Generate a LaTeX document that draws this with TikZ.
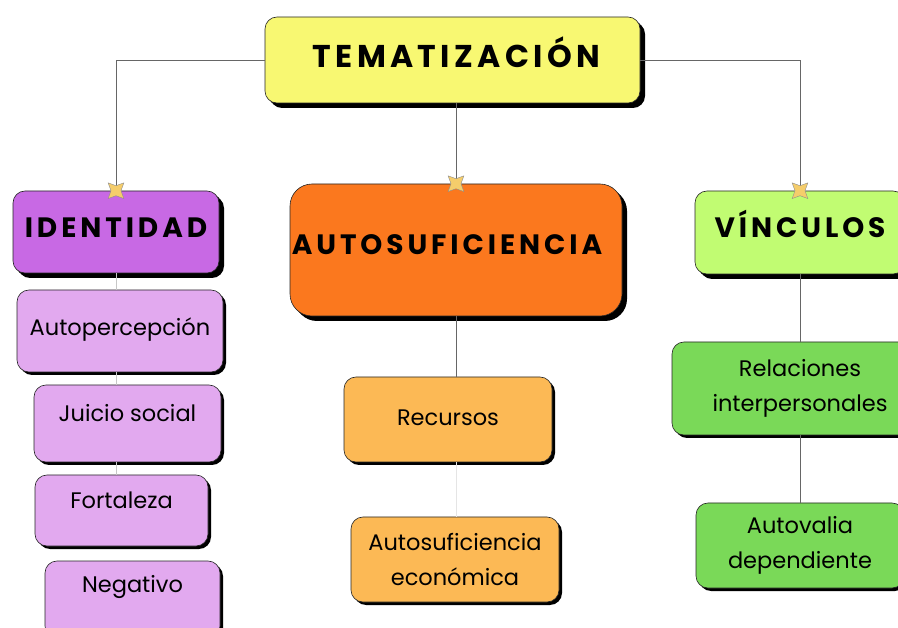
\documentclass[tikz,border=0pt]{standalone}
\usepackage{fontspec}
\setmainfont{Poppins}
\newfontfamily\headfont[LetterSpace=14]{Poppins}
\usepackage{tikz}
\usetikzlibrary{shapes.geometric, shadows}

\definecolor{cTema}{HTML}{F8F872}
\definecolor{cIdent}{HTML}{C869E4}
\definecolor{cIdentSub}{HTML}{E2A9EF}
\definecolor{cAuto}{HTML}{FB781E}
\definecolor{cAutoSub}{HTML}{FCB955}
\definecolor{cVinc}{HTML}{C1FC72}
\definecolor{cVincSub}{HTML}{7AD958}
\definecolor{cJoint}{HTML}{F5CD6B}

\begin{document}
\begin{tikzpicture}[x=1pt, y=-1pt]
		\tikzset{
			box/.style={rectangle, rounded corners=12pt, draw=black!85, line width=0.6pt,
			align=center, inner sep=0pt, text height=16pt, text depth=0pt,
			drop shadow={shadow xshift=3pt, shadow yshift=-3pt, opacity=1, fill=black},
			font=\fontsize{22.5}{35}\selectfont},
			twoline/.style={box, text height=, text depth=},
			head/.style={box, text height=20pt,
			drop shadow={shadow xshift=5pt, shadow yshift=-5pt, opacity=1, fill=black},
			font=\headfont\bfseries\fontsize{28}{30}\selectfont},
			lifted/.style={text depth=#1},
			joint/.style={star, star points=4, star point ratio=0.45, fill=cJoint,
			draw=black!45, line width=0.4pt, inner sep=0pt, minimum size=10pt},
			link/.style={draw=black!60, line width=0.7pt},
			sublink/.style={draw=black!22, line width=0.7pt},
		}
		\useasboundingbox (0,0) rectangle (898,628);

		\node[head, fill=cTema, minimum width=375pt, minimum height=86pt, lifted=5pt,
		font=\headfont\bfseries\fontsize{31.5}{33}\selectfont](tema) at (452.5,60){\hspace*{8pt}TEMATIZACIÓN};
		\node[head, fill=cIdent, minimum width=206pt, minimum height=82pt, lifted=8pt,
		drop shadow={shadow xshift=3pt, shadow yshift=-3pt, opacity=1, fill=black}](ident) at (116,232){IDENTIDAD};
		\node[head, fill=cAuto, minimum width=332pt, minimum height=132pt, rounded corners=22pt,
		lifted=10pt](auto) at (456,250){AUTOSUFICIENCIA\hspace*{18pt}};
		\node[head, fill=cVinc, minimum width=210pt, minimum height=83pt, lifted=9pt,
		drop shadow={shadow xshift=3pt, shadow yshift=-3pt, opacity=1, fill=black}](vinc) at (800,232.5){VÍNCULOS};

		\node[box, fill=cIdentSub, minimum width=206pt, minimum height=82pt, lifted=6pt](autop) at (120,331){Autopercepción};
		\node[box, fill=cIdentSub, minimum width=187pt, minimum height=77pt, lifted=20pt](juicio) at (127.5,423.5){Juicio social};
		\node[box, fill=cIdentSub, minimum width=173pt, minimum height=71pt, lifted=20pt](fort) at (121.5,510.5){Fortaleza};
		\node[box, fill=cIdentSub, minimum width=175pt, minimum height=77pt, lifted=30pt](neg) at (132.5,599.5){Negativo};

		\node[box, fill=cAutoSub, minimum width=208pt, minimum height=85pt, lifted=4pt](recur) at (448,419.5){Recursos};
		\node[twoline, fill=cAutoSub, minimum width=208pt, minimum height=85pt](econ) at (455,559.5){Autosuficiencia\\económica};

		\node[twoline, fill=cVincSub, minimum width=256pt, minimum height=93pt](relac) at (800,388.5){Relaciones\\interpersonales};
		\node[twoline, fill=cVincSub, minimum width=208pt, minimum height=85pt](autov) at (800,545.5){Autovalia\\dependiente};

		\draw[link](tema.west) -| (ident.north);
		\draw[link](tema.east) -| (vinc.north);
		\draw[link](auto.north |- tema.south) -- (auto.north);

		\draw[sublink](ident.south) -- (ident.south |- autop.north);
		\draw[sublink](autop.south -| ident.south) -- (juicio.north -| ident.south);
		\draw[sublink](juicio.south -| ident.south) -- (fort.north -| ident.south);

		\draw[link](auto.south) -- (auto.south |- recur.north);
		\draw[draw=black!10, line width=0.7pt](recur.south -| auto.south) -- (econ.north -| auto.south);

		\draw[link](vinc.south) -- (relac.north);
		\draw[link](relac.south) -- (autov.north);

		\node[joint](jident) at (ident.north){};
		\node[joint](jauto) at (auto.north){};
		\node[joint](jvinc) at (vinc.north){};
	\end{tikzpicture}
\end{document}
